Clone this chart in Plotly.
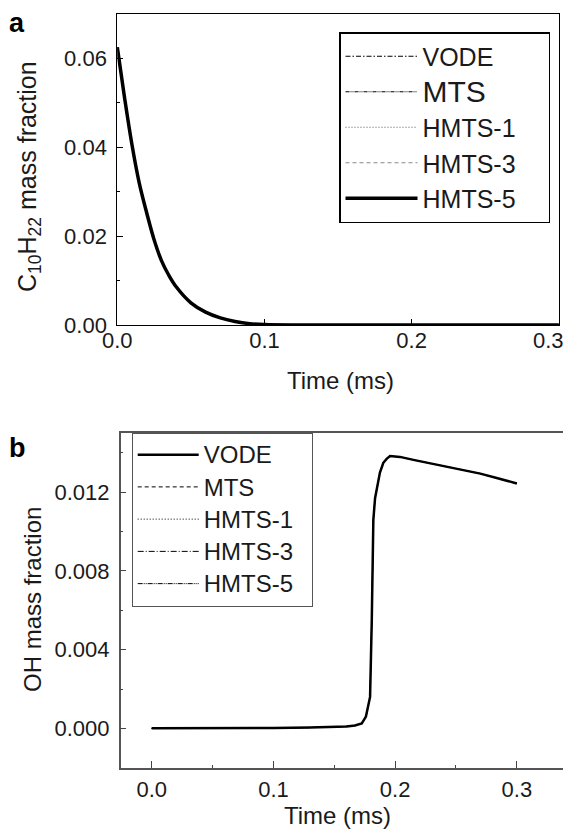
import plotly.graph_objects as go

# ---------------- data ----------------
methods_a = ["VODE", "MTS", "HMTS-1", "HMTS-3", "HMTS-5"]
time_a = [0.0, 0.005, 0.01, 0.015, 0.02, 0.025, 0.03, 0.035, 0.04, 0.05, 0.06,
          0.07, 0.08, 0.09, 0.1, 0.12, 0.15, 0.2, 0.25, 0.3]
c10h22 = [0.0625, 0.0510, 0.0405, 0.0318, 0.0252, 0.0192, 0.0145, 0.0112, 0.0086,
          0.0050, 0.0029, 0.0016, 0.0008, 0.0003, 0.0001, 0.0, 0.0, 0.0, 0.0, 0.0]

methods_b = ["VODE", "MTS", "HMTS-1", "HMTS-3", "HMTS-5"]
time_b = [0.0, 0.02, 0.05, 0.1, 0.13, 0.15, 0.16, 0.167, 0.1726, 0.176, 0.178,
          0.1794, 0.1808, 0.1821, 0.1835, 0.1854, 0.1875, 0.1903, 0.1930, 0.1958,
          0.204, 0.215, 0.23, 0.25, 0.27, 0.285, 0.3]
oh = [0.0, 0.0, 0.00001, 0.00002, 0.00004, 0.00007, 0.0001, 0.00015, 0.00025,
      0.0006, 0.0011, 0.0016, 0.0055, 0.0106, 0.0117, 0.0123, 0.0130, 0.0135,
      0.0137, 0.01384, 0.0138, 0.01365, 0.01345, 0.0132, 0.01295, 0.0127, 0.01245]

x_ticks_a = [0.0, 0.1, 0.2, 0.3]
x_ticklabels_a = ["0.0", "0.1", "0.2", "0.3"]
y_ticks_a = [0.00, 0.02, 0.04, 0.06]
x_ticks_b = [0.0, 0.1, 0.2, 0.3]
y_ticks_b = [0.000, 0.004, 0.008, 0.012]

# ---------------- styles ----------------
PAGE_W, PAGE_H = 571, 836
OFF = 8                      # default body margin of the page
W, H = PAGE_W - OFF, PAGE_H - OFF
FONT = "Liberation Sans, Arial, sans-serif"
TXT = "#1a1a1a"
NB = "\u00a0"

styles_a = {
    "VODE":   dict(color="black", width=1.2, dash="5px,2px,1.5px,2px"),
    "MTS":    dict(color="black", width=1.0, dash="4px,1px,1px,1px,1px,1px"),
    "HMTS-1": dict(color="#555555", width=1.0, dash="1px,2px"),
    "HMTS-3": dict(color="#888888", width=1.0, dash="4px,3px"),
    "HMTS-5": dict(color="black", width=3.5, dash="solid"),
}
sizes_a = {"VODE": 25, "MTS": 30, "HMTS-1": 25, "HMTS-3": 25, "HMTS-5": 25}

styles_b = {
    "VODE":   dict(color="black", width=2.5, dash="solid"),
    "MTS":    dict(color="black", width=1.0, dash="4px,3px"),
    "HMTS-1": dict(color="black", width=1.0, dash="1px,2px"),
    "HMTS-3": dict(color="black", width=1.0, dash="6px,2px,1px,2px"),
    "HMTS-5": dict(color="black", width=1.0, dash="5px,1px,1px,1px,1px,1px"),
}

fig = go.Figure()

for m in methods_a:
    fig.add_trace(go.Scatter(
        x=time_a, y=c10h22, mode="lines",
        name=f"<span style='font-size:{sizes_a[m]}px'>{m}{NB * 4}</span>",
        line=styles_a[m], xaxis="x", yaxis="y", legend="legend",
        line_shape="spline",
    ))

for m in methods_b:
    fig.add_trace(go.Scatter(
        x=time_b, y=oh, mode="lines",
        name=f"<span style='font-size:24px'>{m}{NB * 2}</span>",
        line=styles_b[m], xaxis="x2", yaxis="y2", legend="legend2",
    ))

# plot areas in page pixels
A = dict(l=117.3, r=559.0, t=14.0, b=325.0)
B = dict(l=120.7, r=571.0, t=433.3, b=767.7)


def px_x(v):
    return (v - OFF) / W


def px_y(v):
    return 1 - (v - OFF) / H


tickfont = dict(family=FONT, size=22, color=TXT)
titlefont = dict(family=FONT, size=24, color=TXT)

common = dict(showgrid=False, zeroline=False, automargin=False, tickfont=tickfont)

# the last x tick label of panel a sits at the page edge; it is drawn as a
# text annotation right-aligned just inside the page so that it stays visible
last_label_a = dict(text=x_ticklabels_a[-1], x=x_ticks_a[-1], xref="x", xshift=7,
                    y=px_y(340), yref="paper", xanchor="right", yanchor="middle",
                    showarrow=False, font=tickfont)

fig.update_layout(
    width=W, height=H,
    margin=dict(l=0, r=0, t=0, b=0, autoexpand=False),
    paper_bgcolor="white", plot_bgcolor="white",
    font=dict(family=FONT, color=TXT),
    xaxis=dict(
        domain=[px_x(A["l"]), px_x(A["r"])], anchor="y",
        range=[0, 0.3001], tickvals=x_ticks_a,
        ticktext=x_ticklabels_a[:-1] + [""],
        ticks="inside", ticklen=6, tickcolor="black", ticklabelstandoff=-4,
        showline=True, linecolor="black", linewidth=1, mirror=True, **common,
    ),
    yaxis=dict(
        domain=[px_y(A["b"]), px_y(A["t"])], anchor="x",
        range=[0, 0.07], tickvals=y_ticks_a, tickformat=".2f",
        ticks="inside", ticklen=6, tickcolor="black", ticklabelstandoff=5,
        minor=dict(ticks="inside", ticklen=3, dtick=0.01, tickcolor="black"),
        showline=True, linecolor="black", linewidth=1, mirror=True, **common,
    ),
    xaxis2=dict(
        domain=[px_x(B["l"]), min(1.0, px_x(B["r"]))], anchor="y2",
        range=[-0.0255, 0.3445], tickvals=x_ticks_b, tickformat=".1f",
        ticks="inside", ticklen=7, tickcolor="#444444", ticklabelstandoff=1,
        minor=dict(ticks="inside", ticklen=3, dtick=0.05, tick0=0, tickcolor="#444444"),
        showline=True, linecolor="#555555", linewidth=1.5, mirror=True, **common,
    ),
    yaxis2=dict(
        domain=[px_y(B["b"]), px_y(B["t"])], anchor="x2",
        range=[-0.002, 0.015], tickvals=y_ticks_b, tickformat=".3f",
        ticks="inside", ticklen=6, tickcolor="#444444", ticklabelstandoff=5,
        minor=dict(ticks="inside", ticklen=3, dtick=0.002, tick0=0, tickcolor="#444444"),
        showline=True, linecolor="#555555", linewidth=1.5, mirror=False, **common,
    ),
    legend=dict(
        x=px_x(339), y=px_y(32), xanchor="left", yanchor="top",
        bgcolor="white", bordercolor="black", borderwidth=1.5,
        font=dict(family=FONT, size=25, color=TXT),
        itemwidth=72, tracegroupgap=0,
    ),
    legend2=dict(
        x=px_x(131.7), y=px_y(432.5), xanchor="left", yanchor="top",
        bgcolor="white", bordercolor="#555555", borderwidth=1,
        font=dict(family=FONT, size=22.5, color=TXT),
        itemwidth=61, tracegroupgap=0,
    ),
    showlegend=True,
    annotations=[
        last_label_a,
        dict(text="<b>a</b>", x=px_x(7), y=px_y(6), xref="paper", yref="paper",
             xanchor="left", yanchor="top", showarrow=False,
             font=dict(family=FONT, size=27, color="black")),
        dict(text="<b>b</b>", x=px_x(7), y=px_y(431), xref="paper", yref="paper",
             xanchor="left", yanchor="top", showarrow=False,
             font=dict(family=FONT, size=27, color="black")),
        dict(text="C<sub>10</sub>H<sub>22</sub> mass fraction", textangle=-90,
             x=px_x(29), y=px_y(177), xref="paper", yref="paper",
             xanchor="center", yanchor="middle", showarrow=False,
             font=dict(family=FONT, size=25, color=TXT)),
        dict(text="Time (ms)", x=px_x(340), y=px_y(380), xref="paper", yref="paper",
             xanchor="center", yanchor="middle", showarrow=False, font=titlefont),
        dict(text="OH mass fraction", textangle=-90,
             x=px_x(32), y=px_y(600), xref="paper", yref="paper",
             xanchor="center", yanchor="middle", showarrow=False, font=titlefont),
        dict(text="Time (ms)", x=px_x(337), y=px_y(815), xref="paper", yref="paper",
             xanchor="center", yanchor="middle", showarrow=False, font=titlefont),
    ],
)

fig.write_html("out.html")
